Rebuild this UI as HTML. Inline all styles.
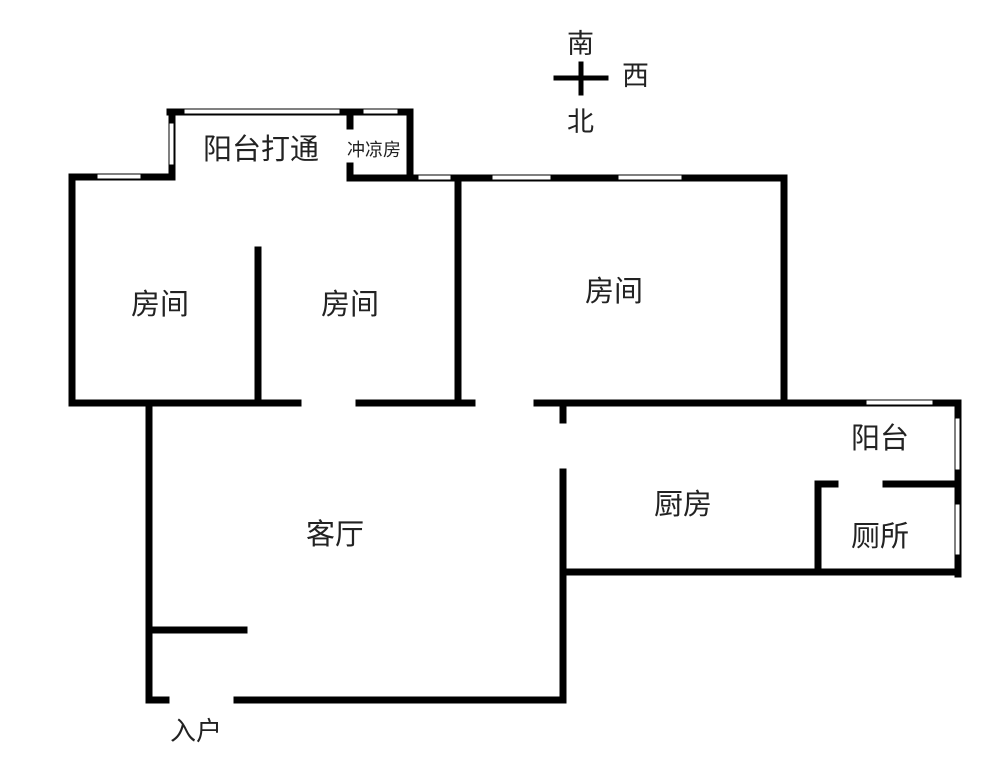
<!DOCTYPE html>
<html><head><meta charset="utf-8"><style>
body{margin:0;background:#fff;width:1000px;height:761px;overflow:hidden}
text{font-family:"Liberation Sans","Noto Sans CJK SC",sans-serif;fill:#222}
</style></head><body>
<svg width="1000" height="761" xmlns="http://www.w3.org/2000/svg">
<g stroke="#000" stroke-width="7" fill="none" stroke-linecap="square">
<line x1="72" y1="177" x2="72" y2="403"/>
<line x1="72" y1="177" x2="172" y2="177"/>
<line x1="172" y1="112" x2="172" y2="177"/>
<line x1="170" y1="112" x2="410" y2="112"/>
<line x1="350" y1="112" x2="350" y2="126"/>
<line x1="350" y1="166" x2="350" y2="178"/>
<line x1="410" y1="112" x2="410" y2="178"/>
<line x1="350" y1="178" x2="784" y2="178"/>
<line x1="458" y1="178" x2="458" y2="403"/>
<line x1="784" y1="178" x2="784" y2="403"/>
<line x1="258" y1="250" x2="258" y2="403"/>
<line x1="72" y1="403" x2="298" y2="403"/>
<line x1="359" y1="403" x2="472" y2="403"/>
<line x1="537" y1="403" x2="958" y2="403"/>
<line x1="149" y1="403" x2="149" y2="700"/>
<line x1="149" y1="700" x2="166" y2="700"/>
<line x1="237" y1="700" x2="563" y2="700"/>
<line x1="149" y1="630" x2="244" y2="630"/>
<line x1="563" y1="403" x2="563" y2="420"/>
<line x1="563" y1="472" x2="563" y2="700"/>
<line x1="563" y1="572" x2="958" y2="572"/>
<line x1="958" y1="403" x2="958" y2="574"/>
<line x1="818" y1="484" x2="818" y2="572"/>
<line x1="818" y1="484" x2="835" y2="484"/>
<line x1="886" y1="484" x2="958" y2="484"/>
<line x1="556" y1="78" x2="606" y2="78" stroke-width="5"/>
<line x1="581" y1="64" x2="581" y2="93" stroke-width="5"/>
</g>
<g fill="#fff" stroke="#000" stroke-width="1">
<rect x="97" y="174" width="44" height="5"/>
<rect x="169" y="123" width="5" height="42"/>
<rect x="184" y="109" width="156" height="5"/>
<rect x="363" y="109" width="35" height="5"/>
<rect x="418" y="175" width="33" height="5"/>
<rect x="492" y="175" width="59" height="5"/>
<rect x="618" y="175" width="64" height="5"/>
<rect x="866" y="400" width="67" height="5"/>
<rect x="955" y="418" width="5" height="52"/>
<rect x="955" y="504" width="5" height="51"/>
</g>
<g font-size="29">
<text x="203" y="159">阳台打通</text>
<text x="131" y="314">房间</text>
<text x="321" y="314">房间</text>
<text x="585" y="301">房间</text>
<text x="851" y="448">阳台</text>
<text x="654" y="514">厨房</text>
<text x="851" y="546">厕所</text>
<text x="306" y="544">客厅</text>
<text x="170" y="740" font-size="26">入户</text>
<text x="567" y="53" font-size="27">南</text>
<text x="622" y="85" font-size="27">西</text>
<text x="567" y="131" font-size="27">北</text>
</g>
<text x="347" y="156" font-size="18">冲凉房</text>
</svg>
</body></html>
